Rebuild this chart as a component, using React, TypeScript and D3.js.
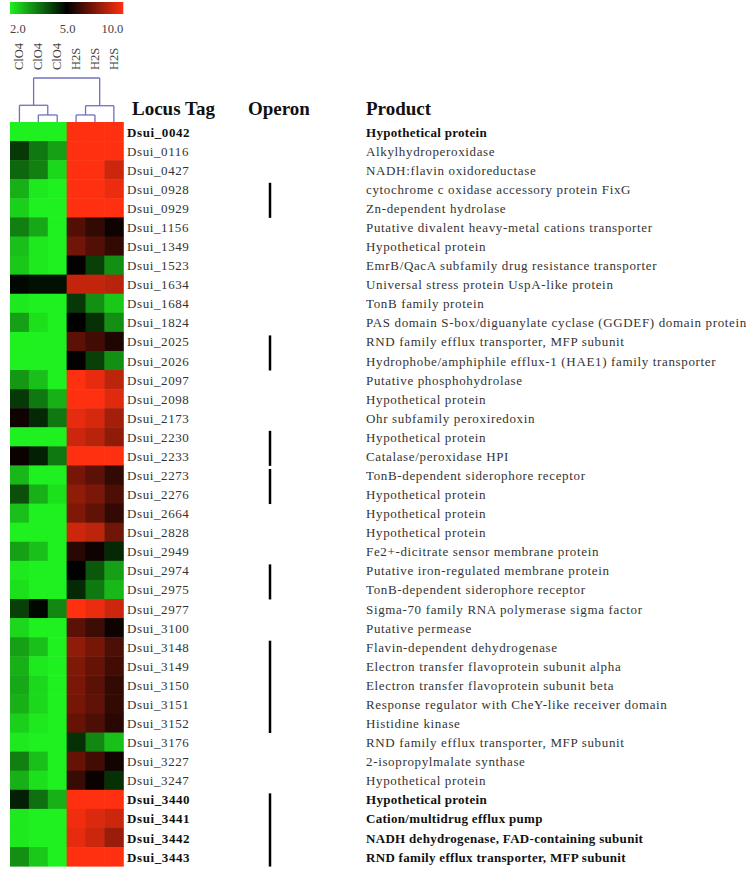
import * as d3 from 'd3';
import React from 'react';

// sample columns
const columns = ['ClO4', 'ClO4', 'ClO4', 'H2S', 'H2S', 'H2S'];

const locusTags = [
  'Dsui_0042', 'Dsui_0116', 'Dsui_0427', 'Dsui_0928', 'Dsui_0929', 'Dsui_1156', 'Dsui_1349',
  'Dsui_1523', 'Dsui_1634', 'Dsui_1684', 'Dsui_1824', 'Dsui_2025', 'Dsui_2026', 'Dsui_2097',
  'Dsui_2098', 'Dsui_2173', 'Dsui_2230', 'Dsui_2233', 'Dsui_2273', 'Dsui_2276', 'Dsui_2664',
  'Dsui_2828', 'Dsui_2949', 'Dsui_2974', 'Dsui_2975', 'Dsui_2977', 'Dsui_3100', 'Dsui_3148',
  'Dsui_3149', 'Dsui_3150', 'Dsui_3151', 'Dsui_3152', 'Dsui_3176', 'Dsui_3227', 'Dsui_3247',
  'Dsui_3440', 'Dsui_3441', 'Dsui_3442', 'Dsui_3443',
];

const products = [
  'Hypothetical protein',
  'Alkylhydroperoxidase',
  'NADH:flavin oxidoreductase',
  'cytochrome c oxidase accessory protein FixG',
  'Zn-dependent hydrolase',
  'Putative divalent heavy-metal cations transporter',
  'Hypothetical protein',
  'EmrB/QacA subfamily drug resistance transporter',
  'Universal stress protein UspA-like protein',
  'TonB family protein',
  'PAS domain S-box/diguanylate cyclase (GGDEF) domain protein',
  'RND family efflux transporter, MFP subunit',
  'Hydrophobe/amphiphile efflux-1 (HAE1) family transporter',
  'Putative phosphohydrolase',
  'Hypothetical protein',
  'Ohr subfamily peroxiredoxin',
  'Hypothetical protein',
  'Catalase/peroxidase HPI',
  'TonB-dependent siderophore receptor',
  'Hypothetical protein',
  'Hypothetical protein',
  'Hypothetical protein',
  'Fe2+-dicitrate sensor membrane protein',
  'Putative iron-regulated membrane protein',
  'TonB-dependent siderophore receptor',
  'Sigma-70 family RNA polymerase sigma factor',
  'Putative permease',
  'Flavin-dependent dehydrogenase',
  'Electron transfer flavoprotein subunit alpha',
  'Electron transfer flavoprotein subunit beta',
  'Response regulator with CheY-like receiver domain',
  'Histidine kinase',
  'RND family efflux transporter, MFP subunit',
  '2-isopropylmalate synthase',
  'Hypothetical protein',
  'Hypothetical protein',
  'Cation/multidrug efflux pump',
  'NADH dehydrogenase, FAD-containing subunit',
  'RND family efflux transporter, MFP subunit',
];

const boldTags = ['Dsui_0042', 'Dsui_3440', 'Dsui_3441', 'Dsui_3442', 'Dsui_3443'];

// expression values, ClO4 replicates
const clo4Values = [
  [2.0, 2.0, 2.0], [4.3, 3.5, 3.0], [3.7, 3.4, 2.3], [2.8, 2.1, 2.0], [2.4, 2.0, 2.0],
  [3.4, 2.9, 2.0], [2.6, 2.1, 2.0], [2.5, 2.1, 2.0], [4.9, 4.8, 4.8], [2.1, 2.0, 2.0],
  [3.0, 2.2, 2.0], [2.0, 2.0, 2.0], [2.0, 2.0, 2.0], [3.1, 2.6, 2.0], [4.3, 3.5, 2.8],
  [5.3, 4.5, 3.5], [2.0, 2.0, 2.0], [5.2, 4.6, 3.5], [2.7, 2.0, 2.0], [4.0, 2.8, 2.2],
  [2.6, 2.0, 2.0], [2.0, 2.0, 2.0], [3.0, 2.6, 2.0], [2.1, 2.0, 2.0], [2.2, 2.0, 2.0],
  [4.2, 4.9, 3.3], [2.3, 2.0, 2.0], [3.0, 2.6, 2.0], [2.8, 2.1, 2.0], [2.9, 2.3, 2.0],
  [2.8, 2.3, 2.0], [2.4, 2.1, 2.0], [2.1, 2.0, 2.0], [3.4, 2.6, 2.0], [2.8, 2.2, 2.0],
  [4.6, 3.6, 2.8], [2.1, 2.0, 2.0], [2.1, 2.0, 2.0], [3.2, 2.5, 2.0],
];

// expression values, H2S replicates
const h2sValues = [
  [10, 10, 10], [10, 10, 10], [10, 10, 9.0], [10, 10, 9.6], [10, 10, 10],
  [6.6, 6.0, 5.3], [7.2, 6.6, 6.0], [5.1, 4.2, 3.2], [8.8, 8.8, 8.6], [4.3, 3.2, 2.5],
  [5.0, 4.4, 3.2], [6.8, 6.3, 5.6], [5.1, 4.2, 3.2], [10, 9.5, 8.7], [10, 10, 9.4],
  [9.5, 9.2, 8.2], [9.0, 8.6, 7.8], [10, 10, 10], [7.3, 6.8, 6.0], [7.8, 7.4, 6.5],
  [7.5, 6.9, 6.0], [9.0, 8.7, 7.2], [5.8, 5.3, 4.5], [5.0, 3.9, 3.0], [4.5, 3.5, 2.7],
  [10, 9.6, 9.0], [6.8, 6.2, 5.3], [7.8, 7.3, 6.5], [7.5, 7.0, 6.3], [7.4, 6.8, 6.0],
  [7.3, 6.9, 6.0], [7.0, 6.5, 5.8], [4.4, 3.3, 2.6], [7.0, 6.3, 5.4], [6.1, 5.2, 4.4],
  [10, 10, 10], [9.7, 9.3, 9.0], [9.5, 9.0, 8.0], [10, 10, 10],
];

// operons: first and last locus tag of each
const operons = [
  ['Dsui_0928', 'Dsui_0929'],
  ['Dsui_2025', 'Dsui_2026'],
  ['Dsui_2230', 'Dsui_2233'],
  ['Dsui_2273', 'Dsui_2276'],
  ['Dsui_2974', 'Dsui_2975'],
  ['Dsui_3148', 'Dsui_3152'],
  ['Dsui_3440', 'Dsui_3443'],
];

const legendTicks = [2.0, 5.0, 10.0];

// column clustering (leaf = column index, height = merge distance)
const tree = {
  height: 1.0,
  children: [
    { height: 0.38, children: [{ leaf: 0 }, { height: 0.16, children: [{ leaf: 1 }, { leaf: 2 }] }] },
    { height: 0.37, children: [{ height: 0.16, children: [{ leaf: 3 }, { leaf: 4 }] }, { leaf: 5 }] },
  ],
};

const FONT = '"Liberation Serif", "Times New Roman", serif';
const GREEN = '#1ff01f';
const RED = '#ff3010';

const App: React.FC = () => {
  const width = 750;
  const height = 869;

  const heatLeft = 10;
  const heatRight = 123.3;
  const heatTop = 122;
  const rowH = 19.08;

  const x = d3.scaleBand<number>().domain(d3.range(columns.length)).range([heatLeft, heatRight]);
  const y = d3.scaleBand<string>().domain(locusTags).range([heatTop, heatTop + rowH * locusTags.length]);
  const color = d3.scaleLinear<string>().domain([2, 5, 10]).range([GREEN, '#000000', RED]).clamp(true);
  const dendroY = d3.scaleLinear().domain([0, 1]).range([heatTop, 78]);

  // dendrogram segments
  const segs: { x1: number; y1: number; x2: number; y2: number }[] = [];
  const walk = (n: any): { cx: number; h: number } => {
    if (n.leaf !== undefined) return { cx: (x(n.leaf) || 0) + x.bandwidth() / 2, h: 0 };
    const kids = n.children.map(walk);
    const yy = dendroY(n.height);
    kids.forEach((k: any) => segs.push({ x1: k.cx, y1: dendroY(k.h), x2: k.cx, y2: yy }));
    segs.push({ x1: kids[0].cx, y1: yy, x2: kids[kids.length - 1].cx, y2: yy });
    return { cx: d3.mean(kids, (k: any) => k.cx) || 0, h: n.height };
  };
  walk(tree);

  const cells: { row: string; col: number; v: number }[] = [];
  locusTags.forEach((tag, i) => {
    [...clo4Values[i], ...h2sValues[i]].forEach((v, j) => cells.push({ row: tag, col: j, v }));
  });

  const rowMid = (tag: string) => (y(tag) || 0) + y.bandwidth() / 2;

  return (
    <svg width={width} height={height} style={{ position: 'absolute', left: 0, top: 0, background: '#fff' }} fontFamily={FONT}>
      <defs>
        <linearGradient id="legendGrad" x1="0" x2="1" y1="0" y2="0">
          <stop offset="0" stopColor={GREEN} />
          <stop offset="0.5" stopColor="#000" />
          <stop offset="1" stopColor={RED} />
        </linearGradient>
      </defs>

      {/* colour legend */}
      <rect x={heatLeft} y={2} width={heatRight - heatLeft} height={12} fill="url(#legendGrad)" />
      {legendTicks.map((t, i) => (
        <text
          key={t}
          x={i === 0 ? heatLeft : i === 1 ? (heatLeft + heatRight) / 2 + 1 : heatRight}
          y={33}
          fontSize={12.5}
          fill="#444"
          textAnchor={i === 0 ? 'start' : i === 1 ? 'middle' : 'end'}
        >
          {t.toFixed(1)}
        </text>
      ))}

      {/* column labels */}
      {columns.map((c, j) => (
        <text
          key={j}
          transform={`translate(${(x(j) || 0) + x.bandwidth() / 2 + 4}, 70) rotate(-90)`}
          fontSize={12.5}
          fill="#444"
        >
          {c}
        </text>
      ))}

      {/* dendrogram */}
      {segs.map((s, i) => (
        <line key={i} x1={s.x1} y1={s.y1} x2={s.x2} y2={s.y2} stroke="#7070c0" strokeWidth={1.3} />
      ))}

      {/* heatmap */}
      {cells.map((c, i) => (
        <rect
          key={i}
          x={x(c.col)}
          y={y(c.row)}
          width={x.bandwidth() + 0.5}
          height={y.bandwidth() + 0.5}
          fill={color(c.v)}
        />
      ))}

      {/* headers */}
      <text x={132} y={115} fontSize={19} fontWeight="bold" fill="#111">Locus Tag</text>
      <text x={248} y={115} fontSize={19} fontWeight="bold" fill="#111">Operon</text>
      <text x={366} y={115} fontSize={19} fontWeight="bold" fill="#111">Product</text>

      {/* rows */}
      {locusTags.map((tag, i) => {
        const bold = boldTags.includes(tag);
        const yy = rowMid(tag) + 5;
        return (
          <g key={tag}>
            <text x={127} y={yy} fontSize={13} letterSpacing={0.6} fontWeight={bold ? 'bold' : 'normal'} fill={bold ? '#111' : '#333'}>
              {tag}
            </text>
            <text
              x={366}
              y={yy}
              fontSize={13}
              letterSpacing={bold ? 0.3 : 0.65}
              fontWeight={bold ? 'bold' : 'normal'}
              fill={bold ? '#111' : '#333'}
            >
              {products[i]}
            </text>
          </g>
        );
      })}

      {/* operon bars */}
      {operons.map(([a, b]) => (
        <line key={a} x1={270} x2={270} y1={rowMid(a) - 6} y2={rowMid(b) + 10} stroke="#000" strokeWidth={2.5} />
      ))}
    </svg>
  );
};

export default App;
